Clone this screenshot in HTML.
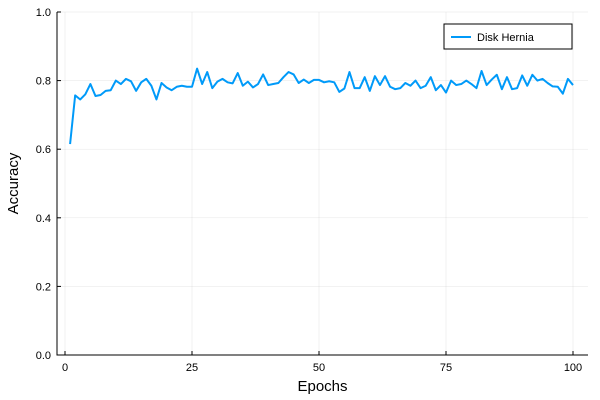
<!DOCTYPE html>
<html><head><meta charset="utf-8"><style>body{margin:0;background:#fff}svg{display:block;font-family:"Liberation Sans",sans-serif}</style></head>
<body>
<svg id="chart" width="600" height="400"></svg>
<script>
const epochs = Array.from({length:100},(_,i)=>i+1);
const accuracy = [0.615,0.757,0.745,0.76,0.79,0.755,0.758,0.77,0.772,0.8,0.79,0.805,0.798,0.77,0.795,0.805,0.785,0.745,0.793,0.78,0.772,0.782,0.785,0.782,0.782,0.835,0.79,0.825,0.778,0.797,0.805,0.795,0.792,0.822,0.785,0.797,0.78,0.79,0.818,0.787,0.79,0.793,0.81,0.825,0.818,0.793,0.803,0.793,0.802,0.802,0.795,0.798,0.795,0.767,0.777,0.825,0.778,0.778,0.81,0.77,0.813,0.787,0.813,0.782,0.775,0.778,0.793,0.785,0.8,0.778,0.785,0.81,0.772,0.787,0.765,0.8,0.787,0.79,0.8,0.79,0.778,0.828,0.787,0.803,0.817,0.775,0.81,0.775,0.778,0.815,0.785,0.817,0.8,0.805,0.793,0.783,0.782,0.762,0.805,0.787];
const xTicks = [0,25,50,75,100];
const yTicks = [0,0.2,0.4,0.6,0.8,1.0];
const yTickLabels = ["0.0","0.2","0.4","0.6","0.8","1.0"];
const NS="http://www.w3.org/2000/svg", svg=document.getElementById('chart');
const L=57,R=588,T=12,B=355;
const xs=v=>65+(v-0)*(573-65)/100, ys=v=>B-v*(B-T);
function mk(tag,attrs,parent){const e=document.createElementNS(NS,tag);for(const k in attrs)e.setAttribute(k,attrs[k]);(parent||svg).appendChild(e);return e;}
xTicks.forEach((t,i)=>{
 const g=mk('line',{x1:xs(t),x2:xs(t),y1:T,y2:B,stroke:'#000','stroke-opacity':0.1,'stroke-width':0.5});
 
 
 const k=mk('line',{x1:xs(t),x2:xs(t),y1:B,y2:B-4,stroke:'#000'});
 
 
 const tx=mk('text',{x:xs(t),y:B+16,'text-anchor':'middle','font-size':11});tx.textContent=t;
 
 
});
yTicks.forEach((t,i)=>{
 const g=mk('line',{x1:L,x2:R,y1:ys(t),y2:ys(t),stroke:'#000','stroke-opacity':0.1,'stroke-width':0.5});
 
 
 const k=mk('line',{x1:L,x2:L+4,y1:ys(t),y2:ys(t),stroke:'#000'});
 
 
 const tx=mk('text',{x:L-6,y:ys(t)+4,'text-anchor':'end','font-size':11});tx.textContent=yTickLabels[i];
 
 
});
const ax=mk('path',{d:`M${L},${T}V${B}H${R}`,fill:'none',stroke:'#000','stroke-width':1});


const line=mk('polyline',{points:epochs.map((e,i)=>xs(e)+','+ys(accuracy[i])).join(' '),fill:'none',stroke:'#009af9','stroke-width':2,'stroke-linejoin':'round'});


const xl=mk('text',{x:(L+R)/2,y:391,'text-anchor':'middle','font-size':15});xl.textContent='Epochs';


const yl=mk('text',{x:18,y:(T+B)/2,'text-anchor':'middle','font-size':15,transform:`rotate(-90 18 ${(T+B)/2})`});yl.textContent='Accuracy';


const lg=mk('g',{});


mk('rect',{x:444,y:24,width:128,height:25,fill:'#fff',stroke:'#000','stroke-width':1},lg);
mk('line',{x1:451,x2:471,y1:37,y2:37,stroke:'#009af9','stroke-width':2},lg);
const lt=mk('text',{x:477,y:41,'font-size':11},lg);lt.textContent='Disk Hernia';


</script>
</body></html>
